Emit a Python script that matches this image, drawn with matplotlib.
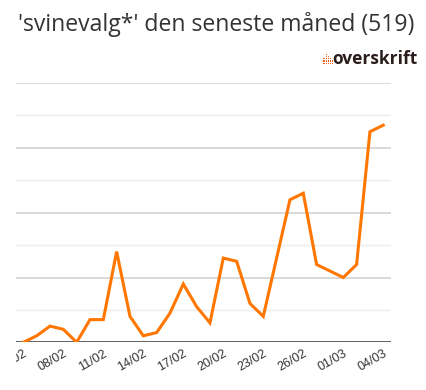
import matplotlib
matplotlib.use("Agg")
import matplotlib.pyplot as plt
from matplotlib.patches import Rectangle

# daily mentions, 05/02 -> 04/03
dates = ["05/02", "06/02", "07/02", "08/02", "09/02", "10/02", "11/02",
         "12/02", "13/02", "14/02", "15/02", "16/02", "17/02", "18/02",
         "19/02", "20/02", "21/02", "22/02", "23/02", "24/02", "25/02",
         "26/02", "27/02", "28/02", "01/03", "02/03", "03/03", "04/03"]
counts = [0, 2, 5, 4, 0, 7, 7, 28, 8, 2, 3, 9, 18, 11, 6, 26, 25, 12, 8,
          26, 44, 46, 24, 22, 20, 24, 65, 67]
title = "'svinevalg*' den seneste måned (519)"
brand = "overskrift"

W, H = 427, 390
fig = plt.figure(figsize=(W / 100, H / 100), dpi=100)
ax = fig.add_axes([16 / W, 47.7 / H, 375 / W, 259.2 / H])

x = list(range(len(dates)))
ax.plot(x, counts, color="#ff7700", lw=2.2, solid_joinstyle="miter", zorder=3)

ax.set_xlim(-0.55, 27.58)
ax.set_ylim(0, 80)

# alternating grid: darker every 20, lighter in between
for v in range(10, 81, 10):
    if v % 20 == 0:
        ax.axhline(v, color="#d9d9d9", lw=1.4, zorder=1)
    else:
        ax.axhline(v, color="#ececec", lw=1.0, zorder=1)
ax.axhline(0, color="#606060", lw=1.4, zorder=2)

for s in ax.spines.values():
    s.set_visible(False)
ax.set_yticks([])
ticks = x[::3]
ax.set_xticks(ticks)
ax.set_xticklabels([dates[i] for i in ticks], rotation=30, ha="right",
                   va="top", rotation_mode="anchor", fontsize=9,
                   color="#333333", family="Liberation Sans")
ax.tick_params(axis="x", length=0, pad=4)

fig.text(18 / W, 1 - 31 / H, title, fontsize=16.6, color="#333333",
         family="Open Sans", ha="left", va="baseline")

fig.text(418 / W, 1 - 64 / H, brand, fontsize=12.5, fontweight="bold",
         color="#2a1c1c", family="Open Sans", ha="right", va="baseline")

# small dotted logo mark
col_heights = [3, 5, 4, 3, 2]
for c, hgt in enumerate(col_heights):
    for r in range(hgt):
        fig.patches.append(Rectangle(((323.5 + c * 2.2) / W, (H - 64 + r * 2.3) / H),
                                     1.2 / W, 1.2 / H, transform=fig.transFigure,
                                     color="#f0621e", lw=0))

# the source view is clipped on the left
fig.patches.append(Rectangle((0, 0), 16 / W, 1, transform=fig.transFigure,
                             color="white", lw=0, zorder=10))

fig.savefig("out.png", dpi=100)
